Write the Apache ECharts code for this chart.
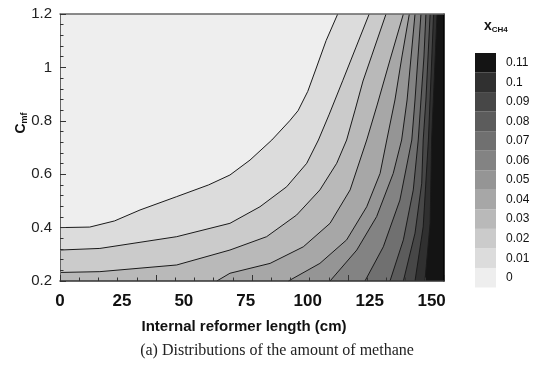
<!DOCTYPE html>
<html><head><meta charset="utf-8">
<script src="https://cdn.jsdelivr.net/npm/echarts@6/dist/echarts.min.js"></script>
<style>html,body{margin:0;padding:0;background:#fff}#c{width:542px;height:375px}</style>
</head><body><div id="c"></div>
<script>
// ---- data ----
const xTickLabels = [0, 25, 50, 75, 100, 125, 150];
const yTickLabels = [0.2, 0.4, 0.6, 0.8, 1, 1.2];
const levelLabels = ['0','0.01','0.02','0.03','0.04','0.05','0.06','0.07','0.08','0.09','0.1','0.11'];
const levelColors = ['#eeeeee','#dcdcdc','#cbcbcb','#b9b9b9','#a7a7a7','#959595','#838383','#707070','#5c5c5c','#474747','#303030','#141414'];

// contour lines [length (cm), Cmf] for levels 0.01 ... 0.11
const c01 = [[0,0.400],[12,0.402],[22,0.425],[32.3,0.466],[47.1,0.516],[60,0.560],[68.6,0.597],[76.7,0.653],[85.5,0.728],[92.7,0.800],[96.1,0.838],[100,0.910],[103.3,0.994],[107.4,1.100],[112.1,1.2]];
const c02 = [[0,0.316],[16.1,0.322],[47.1,0.366],[68.6,0.416],[80.7,0.478],[91.5,0.553],[99.6,0.641],[104.3,0.728],[108.7,0.825],[114.1,0.950],[119.5,1.076],[124.8,1.2]];
const c03 = [[0,0.232],[16.1,0.235],[47.1,0.260],[68.6,0.316],[83.4,0.366],[95.5,0.447],[104.9,0.541],[111.7,0.641],[115.7,0.728],[119.1,0.840],[122.3,0.949],[125.9,1.046],[131.6,1.2]];
const c04 = [[63.3,0.2],[68.6,0.229],[84.8,0.266],[98.2,0.328],[109.0,0.416],[117.1,0.541],[123.8,0.728],[128.0,0.859],[133.2,1.028],[138.6,1.2]];
const c05 = [[92.2,0.2],[104.9,0.266],[115.7,0.354],[123.8,0.478],[129.2,0.603],[131.9,0.728],[135.2,0.878],[138.0,1.039],[141.0,1.2]];
const c06 = [[109.0,0.2],[119.8,0.316],[127.8,0.441],[134.5,0.603],[137.9,0.728],[140.1,0.878],[141.7,1.039],[143.3,1.2]];
const c07 = [[123.1,0.2],[130.5,0.328],[137.2,0.503],[142.0,0.728],[143.3,0.878],[144.5,1.039],[145.7,1.2]];
const c08 = [[133.2,0.2],[138.6,0.354],[142.6,0.541],[144.6,0.728],[145.7,0.878],[146.9,1.039],[147.7,1.2]];
const c09 = [[138.6,0.2],[143.3,0.379],[146.0,0.566],[146.6,0.728],[147.7,0.878],[149.4,1.2]];
const c10 = [[143.3,0.2],[146.6,0.403],[148.7,0.728],[150.8,1.2]];
const c11 = [[147.3,0.2],[149.4,0.416],[150.0,0.728],[152.2,1.2]];
const contours = [c01,c02,c03,c04,c05,c06,c07,c08,c09,c10,c11];

// ---- chart ----
const X_MIN = 0, X_MAX = 155, Y_MIN = 0.2, Y_MAX = 1.2;
const SANS = '"Liberation Sans", Arial, Helvetica, sans-serif';
const SERIF = '"Liberation Serif", "Times New Roman", serif';

const fillSeries = contours.map((c, i) => ({
  type: 'line', xAxisIndex: 0, yAxisIndex: 0,
  data: c.concat([[X_MAX, Y_MAX]]),
  symbol: 'none', silent: true, animation: false, z: 2,
  lineStyle: { width: 0, opacity: 0 },
  areaStyle: { color: levelColors[i + 1], opacity: 1, origin: 'start' }
}));
const lineSeries = contours.map(c => ({
  type: 'line', xAxisIndex: 0, yAxisIndex: 0, data: c,
  symbol: 'none', silent: true, animation: false, z: 3,
  lineStyle: { color: '#1a1a1a', width: 1 }
}));
const barSeries = {
  type: 'bar', xAxisIndex: 3, yAxisIndex: 2, barWidth: '100%', silent: true, animation: false,
  data: levelLabels.map((l, i) => ({ value: 1, itemStyle: { color: levelColors[i] } }))
};

const chart = echarts.init(document.getElementById('c'), null, { renderer: 'canvas' });
chart.setOption({
  animation: false,
  backgroundColor: '#ffffff',
  grid: [
    { left: 60, right: 98, top: 14, bottom: 94, show: true, backgroundColor: levelColors[0], borderWidth: 0 },
    { left: 475, width: 21, top: 53, height: 234.5 }
  ],
  xAxis: [
    { gridIndex: 0, type: 'value', min: X_MIN, max: X_MAX, interval: 25, position: 'bottom', z: 5,
      axisLine: { show: true, onZero: false, lineStyle: { color: '#333', width: 1.5 } },
      axisTick: { show: false }, splitLine: { show: false },
      axisLabel: { showMaxLabel: false, margin: 12, fontFamily: SANS, fontWeight: 'bold', fontSize: 17, color: '#111',
        formatter: v => xTickLabels.includes(v) ? String(v) : '' } },
    { gridIndex: 0, type: 'value', min: 0, max: 4, interval: 1, position: 'bottom', z: 5,
      axisLine: { show: false, onZero: false },
      axisTick: { show: true, inside: true, length: 6, lineStyle: { color: '#333' } },
      minorTick: { show: true, splitNumber: 5, length: 3.5, lineStyle: { color: '#333' } },
      axisLabel: { show: false }, splitLine: { show: false } },
    { gridIndex: 0, type: 'value', min: 0, max: 1, position: 'top', z: 5,
      axisLine: { show: true, onZero: false, lineStyle: { color: '#666', width: 1.5 } },
      axisTick: { show: false }, axisLabel: { show: false }, splitLine: { show: false } },
    { gridIndex: 1, type: 'value', min: 0, max: 1, show: false }
  ],
  yAxis: [
    { gridIndex: 0, type: 'value', min: Y_MIN, max: Y_MAX, interval: 0.2, z: 5,
      axisLine: { show: true, onZero: false, lineStyle: { color: '#666' } },
      axisTick: { show: true, inside: true, length: 6, lineStyle: { color: '#333' } },
      minorTick: { show: true, splitNumber: 5, length: 3.5, lineStyle: { color: '#333' } },
      splitLine: { show: false },
      axisLabel: { margin: 8, fontFamily: SANS, fontSize: 15, color: '#222',
        formatter: v => { const t = yTickLabels.find(k => Math.abs(k - v) < 1e-6); return t === undefined ? '' : String(t); } } },
    { gridIndex: 0, type: 'value', min: 0, max: 1, position: 'right', z: 5,
      axisLine: { show: true, onZero: false, lineStyle: { color: '#000', width: 1.5 } },
      axisTick: { show: false }, axisLabel: { show: false }, splitLine: { show: false } },
    { gridIndex: 1, type: 'category', data: levelLabels, position: 'right',
      axisLine: { show: false }, axisTick: { show: false }, splitLine: { show: false },
      axisLabel: { margin: 10, fontFamily: SANS, fontSize: 12, color: '#111' } }
  ],
  graphic: [
    { type: 'text', x: 484, y: 26, style: { text: '{a|x}{b|CH4}', verticalAlign: 'middle',
      rich: { a: { fontFamily: SANS, fontSize: 14, fontWeight: 'bold', fill: '#111', lineHeight: 16 },
              b: { fontFamily: SANS, fontSize: 8, fontWeight: 'bold', fill: '#111', lineHeight: 10, verticalAlign: 'bottom' } } } },
    { type: 'text', x: 21, y: 123, rotation: Math.PI / 2, style: { text: '{c|C}{s|mf}', align: 'center', verticalAlign: 'middle',
      rich: { c: { fontFamily: SANS, fontSize: 14, fontWeight: 'bold', fill: '#111', lineHeight: 16 },
              s: { fontFamily: SANS, fontSize: 9, fontWeight: 'bold', fill: '#111', lineHeight: 10, verticalAlign: 'bottom' } } } },
    { type: 'text', x: 244, y: 327, style: { text: 'Internal reformer length (cm)', align: 'center', verticalAlign: 'middle',
      fontFamily: SANS, fontWeight: 'bold', fontSize: 15, fill: '#111' } },
    { type: 'text', x: 277, y: 351, style: { text: '(a) Distributions of the amount of methane', align: 'center', verticalAlign: 'middle',
      fontFamily: SERIF, fontSize: 16, fill: '#222' } }
  ],
  series: fillSeries.concat(lineSeries, [barSeries])
});
</script></body></html>
